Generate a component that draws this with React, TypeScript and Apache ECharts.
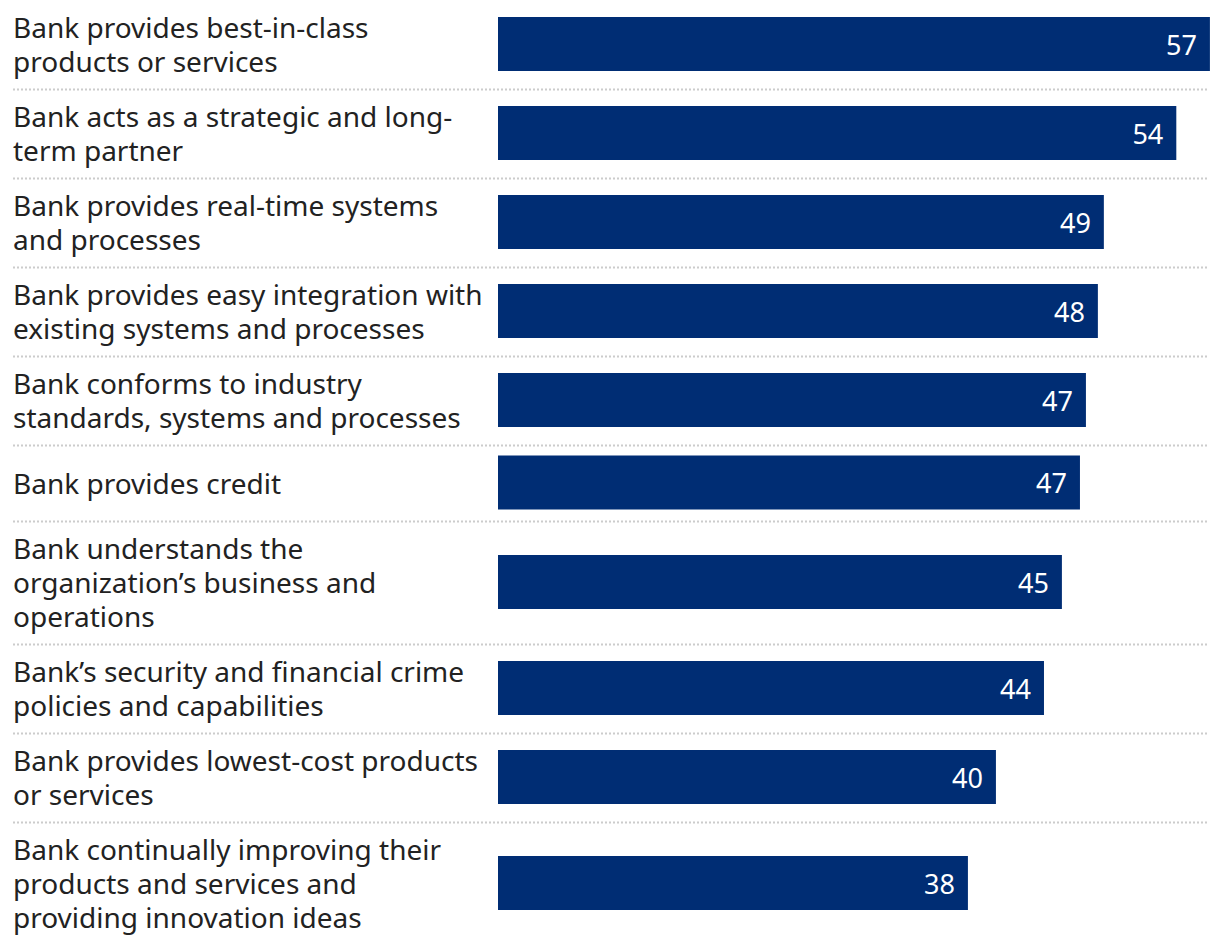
import React, { useEffect, useRef } from "react";
import * as echarts from "echarts";

const categories: string[] = [
  "Bank provides best-in-class\nproducts or services",
  "Bank acts as a strategic and long-\nterm partner",
  "Bank provides real-time systems\nand processes",
  "Bank provides easy integration with\nexisting systems and processes",
  "Bank conforms to industry\nstandards, systems and processes",
  "Bank provides credit",
  "Bank understands the\norganization\u2019s business and\noperations",
  "Bank\u2019s security and financial crime\npolicies and capabilities",
  "Bank provides lowest-cost products\nor services",
  "Bank continually improving their\nproducts and services and\nproviding innovation ideas",
];

const values: number[] = [57.19, 54.49, 48.67, 48.19, 47.23, 46.75, 45.3, 43.86, 40.0, 37.75];

const AXIS_MAX = 58;

export default function App() {
  const ref = useRef<HTMLDivElement>(null);

  useEffect(() => {
    if (!ref.current) return;
    const chart = echarts.init(ref.current, undefined, { renderer: "svg" });

    const FONT = "'Noto Sans', 'Open Sans', sans-serif";
    const LINE_H = 34;
    const BAR_H = 54;
    const PLOT_LEFT = 498;
    const LABEL_LEFT = 13;
    const PLOT_W = 722;

    const grids: any[] = [];
    const xAxes: any[] = [];
    const yAxes: any[] = [];
    const series: any[] = [];
    const graphics: any[] = [];

    let top = 0;
    categories.forEach((cat, i) => {
      const lines = cat.split("\n").length;
      const h = Math.max(76, lines * LINE_H + 21);
      const center = top + h / 2;
      grids.push({
        left: PLOT_LEFT,
        top: center - BAR_H / 2 - 0.5,
        width: PLOT_W,
        height: BAR_H,
        containLabel: false,
      });
      xAxes.push({
        type: "value",
        gridIndex: i,
        min: 0,
        max: AXIS_MAX,
        show: false,
        splitLine: { show: false },
      });
      yAxes.push({
        type: "category",
        gridIndex: i,
        data: [cat],
        axisLine: { show: false },
        axisTick: { show: false },
        splitLine: { show: false },
        axisLabel: {
          show: true,
          align: "left",
          margin: PLOT_LEFT - LABEL_LEFT,
          fontSize: 28,
          lineHeight: LINE_H,
          color: "#222222",
          fontFamily: FONT,
        },
      });
      series.push({
        type: "bar",
        xAxisIndex: i,
        yAxisIndex: i,
        data: [values[i]],
        barWidth: BAR_H,
        itemStyle: { color: "#002D74" },
        label: {
          show: true,
          position: "insideRight",
          distance: 13,
          color: "#ffffff",
          fontSize: 27,
          fontFamily: FONT,
          formatter: (p: any) => String(Math.round(p.value)),
        },
        silent: true,
      });
      top += h;
      if (i < categories.length - 1) {
        graphics.push({
          type: "line",
          shape: { x1: LABEL_LEFT, y1: top + 0.5, x2: 1208, y2: top + 0.5 },
          style: { stroke: "#cccccc", lineWidth: 2, lineDash: [2, 2] },
          silent: true,
        });
      }
    });

    chart.setOption({
      animation: false,
      grid: grids,
      xAxis: xAxes,
      yAxis: yAxes,
      series,
      graphic: graphics,
    });

    return () => chart.dispose();
  }, []);

  return (
    <div
      ref={ref}
      style={{ position: "absolute", left: 0, top: 0, width: 1220, height: 944, background: "#ffffff" }}
    />
  );
}
